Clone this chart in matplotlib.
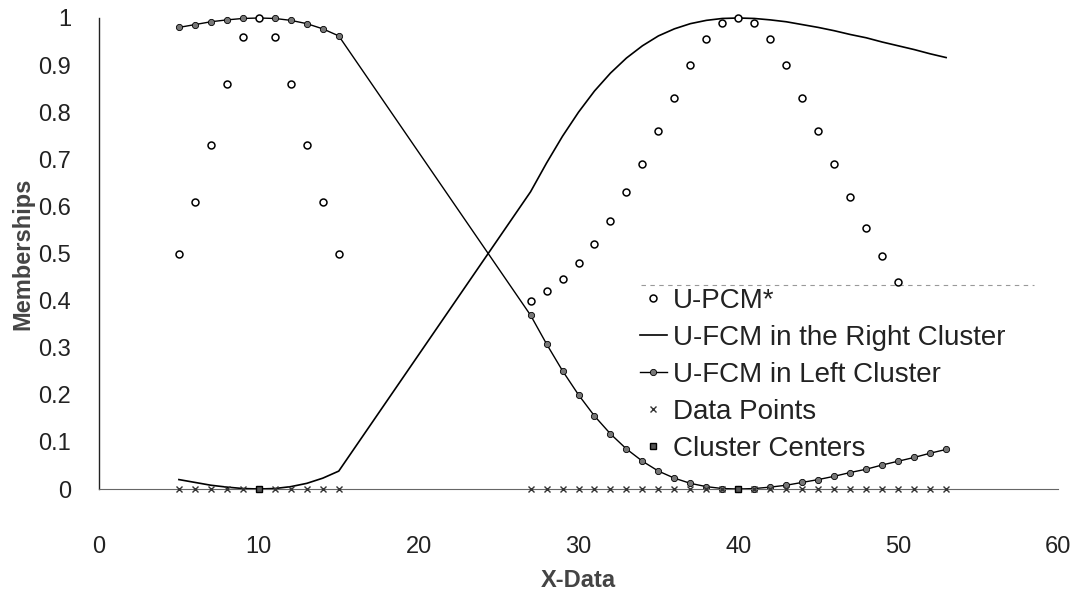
import numpy as np
from matplotlib import pyplot as plt

plt.rcParams['font.family'] = ['Liberation Sans', 'DejaVu Sans']

# data points of the two clusters
x_left = [5, 6, 7, 8, 9, 10, 11, 12, 13, 14, 15]
x_right = [27, 28, 29, 30, 31, 32, 33, 34, 35, 36, 37, 38, 39, 40,
           41, 42, 43, 44, 45, 46, 47, 48, 49, 50, 51, 52, 53]
centers = [10, 40]

# U-PCM* (only the points visible in the picture, right ones end under the legend)
pcm_x = x_left + [27, 28, 29, 30, 31, 32, 33, 34, 35, 36, 37, 38, 39, 40,
                  41, 42, 43, 44, 45, 46, 47, 48, 49, 50]
pcm_u = [0.50, 0.61, 0.73, 0.86, 0.96, 1.00, 0.96, 0.86, 0.73, 0.61, 0.50,
         0.40, 0.42, 0.445, 0.48, 0.52, 0.57, 0.63, 0.69, 0.76, 0.83, 0.90, 0.955, 0.99, 1.00,
         0.99, 0.955, 0.90, 0.83, 0.76, 0.69, 0.62, 0.555, 0.495, 0.44]

# U-FCM, membership in left cluster
fcm_left = [0.980, 0.986, 0.992, 0.996, 0.999, 1.000, 0.999, 0.995, 0.988, 0.977, 0.962,
            0.369, 0.308, 0.251, 0.200, 0.155, 0.117, 0.085, 0.059, 0.038, 0.023, 0.012,
            0.005, 0.001, 0.000, 0.001, 0.004, 0.008, 0.014, 0.020, 0.027, 0.035, 0.042,
            0.051, 0.059, 0.067, 0.076, 0.084]
# U-FCM, membership in right cluster
fcm_right = [0.020, 0.014, 0.008, 0.004, 0.001, 0.000, 0.001, 0.005, 0.012, 0.023, 0.038,
             0.631, 0.692, 0.749, 0.800, 0.845, 0.883, 0.915, 0.941, 0.962, 0.977, 0.988,
             0.995, 0.999, 1.000, 0.999, 0.996, 0.992, 0.986, 0.980, 0.973, 0.965, 0.958,
             0.949, 0.941, 0.933, 0.924, 0.916]

x_all = x_left + x_right

fig = plt.figure(figsize=(10.77, 5.98), dpi=100)
ax = fig.add_axes([99/1077, 1 - 489/598, (1058 - 99)/1077, (489 - 18)/598])

ax.plot(pcm_x, pcm_u, 'o', ms=5, mfc='white', mec='black', mew=1.1,
        ls='none', label='U-PCM*', clip_on=False, zorder=3)
ax.plot(x_all, fcm_right, '-', color='black', lw=1.2,
        label='U-FCM in the Right Cluster', clip_on=False, zorder=2)
ax.plot(x_all, fcm_left, '-o', color='black', lw=1.0, ms=4.5, mfc='#777777',
        mec='black', mew=0.6, label='U-FCM in Left Cluster', clip_on=False, zorder=2)
ax.plot(x_all, np.zeros(len(x_all)), 'x', ms=5, color='#333333', mew=1.0,
        ls='none', label='Data Points', clip_on=False, zorder=4)
ax.plot(centers, np.zeros(len(centers)), 's', ms=5, mfc='#555555', mec='black',
        ls='none', label='Cluster Centers', clip_on=False, zorder=5)

ax.set_xlim(0, 60)
ax.set_ylim(0, 1)
ax.set_xticks([0, 10, 20, 30, 40, 50, 60])
ax.set_yticks(np.arange(0, 1.01, 0.1))
ax.set_yticklabels(['0', '0.1', '0.2', '0.3', '0.4', '0.5', '0.6', '0.7', '0.8', '0.9', '1'])
ax.tick_params(axis='x', length=0, pad=34, labelsize=17, labelcolor='#222222')
ax.tick_params(axis='y', length=0, pad=20, labelsize=17, labelcolor='#222222')

for s in ['top', 'right']:
    ax.spines[s].set_visible(False)
ax.spines['left'].set_color('#222222')
ax.spines['left'].set_linewidth(1.0)
ax.spines['bottom'].set_color('#666666')
ax.spines['bottom'].set_linewidth(0.8)

ax.set_xlabel('X-Data', fontsize=17, fontweight='bold', color='#444444', labelpad=8)
ax.set_ylabel('Memberships', fontsize=17, fontweight='bold', color='#444444', labelpad=3)

# faint dashed top edge of the legend box, as in the scan
ax.plot([0.565, 0.975], [0.433, 0.433], transform=ax.transAxes, color='#999999',
        lw=0.8, ls=(0, (4, 4)), zorder=1)

leg = ax.legend(loc='upper left', bbox_to_anchor=(0.555, 0.445), fontsize=20,
                frameon=False, borderpad=0.3, handlelength=1.0,
                handletextpad=0.2, labelspacing=0.4, borderaxespad=0)
leg.set_zorder(10)
for t in leg.get_texts():
    t.set_color('#222222')

plt.savefig('out.png', dpi=100)
